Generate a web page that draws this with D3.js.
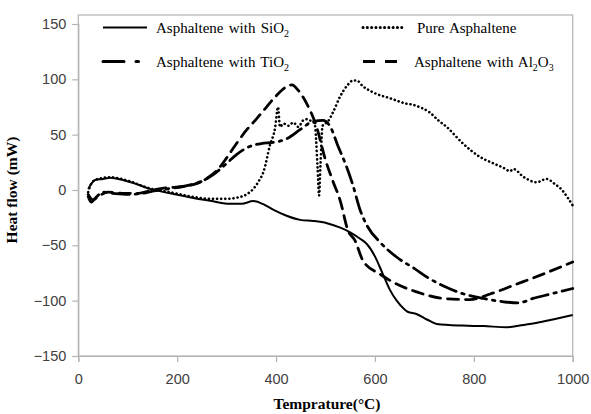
<!DOCTYPE html>
<html>
<head>
<meta charset="utf-8">
<script src="https://cdn.jsdelivr.net/npm/d3@7"></script>
<style>
  body { margin: 0; background: #fff; }
  svg { display: block; }
  .tick text { font-family: "Liberation Sans", Arial, sans-serif; font-size: 14.5px; fill: #404040; }
  .leg { font-family: "Liberation Serif", "Times New Roman", serif; font-size: 15px; fill: #000; word-spacing: 1.5px; }
  .ttl { font-family: "Liberation Serif", "Times New Roman", serif; font-size: 15.5px; font-weight: bold; fill: #000; }
</style>
</head>
<body>
<svg id="chart" width="591" height="414"></svg>
<script>
// values, [temperature C, heat flow mW]
var sio2 = [[20,1],[27,6],[34,9],[50,10],[64,11],[90,9],[120,5],[145,1],[186,-3],[230,-7],[270,-10],
  [307,-12.5],[330,-12.5],[354,-10],[375,-13],[395,-18],[420,-23],[449,-27],[475,-28],[503,-30],
  [530,-34],[549,-38],[570,-44],[584,-49],[600,-60],[616,-76],[630,-90],[644,-100],[660,-108],
  [666,-110],[684,-112],[705,-117],[725,-121],[778,-122.5],[820,-123],[867,-124],[900,-122],
  [928,-120],[960,-117],[1000,-113]];

var pure = [[20,-2],[28,7],[40,10],[64,11.5],[100,8.5],[140,2],[186,-2],[230,-6],[267,-8],[300,-8],
  [320,-7],[340,-4],[354,1],[365,8],[375,17],[388,41],[398,56],[404,75],[408,57],[415,60],[425,58],
  [435,61],[445,57],[455,63],[462,64],[472,62],[478,60],[484,20],[487,-5],[490,25],[494,58],
  [505,62],[515,70],[529,84],[545,95],[556,99],[563,99],[575,94],[597,88],[630,83],[664,78],
  [677,77],[695,74],[711,70],[728,63],[745,57],[778,42],[812,30],[840,24],[860,20],[873,17],
  [880,19],[900,12],[927,7],[947,10],[965,5],[974,2],[990,-7],[1000,-14]];

var tio2 = [[20,-6],[26,-11],[35,-7],[50,-2],[70,-3],[100,-4],[130,-3],[150,-1],[180,1],[220,4],
  [250,8],[270,13],[300,24],[320,32],[345,39],[370,42],[395,43],[420,46],[450,55],[475,62],
  [495,63],[510,57],[525,40],[540,24],[555,5],[570,-18],[585,-33],[610,-47],[645,-61],[680,-71],
  [710,-80],[750,-89],[780,-94],[820,-98],[860,-101],[890,-102],[920,-98],[955,-94],[1000,-89]];

var al2o3 = [[20,-4],[30,-9],[40,-6],[60,-2],[90,-3],[120,-3],[150,0],[180,2],[210,3],[240,6],
  [265,12],[285,20],[300,29],[320,42],[340,54],[360,64],[375,72],[400,85],[420,93],[432,95],
  [445,90],[462,78],[482,57],[500,27],[515,8],[530,-10],[545,-36],[560,-46],[576,-64],[610,-76],
  [644,-85],[684,-92],[738,-98],[792,-99],[833,-94],[887,-85],[940,-76],[1000,-65]];

var xTicks = [0, 200, 400, 600, 800, 1000];
var yTicks = [-150, -100, -50, 0, 50, 100, 150];

var series = [
  {name: ["Asphaltene with SiO", "2", ""], data: sio2, dash: null, w: 2},
  {name: ["Asphaltene with TiO", "2", ""], data: tio2, dash: "17 6 2.5 6", w: 2.8},
  {name: ["Pure Asphaltene"], data: pure, dash: "0.1 4", w: 2.6},
  {name: ["Asphaltene with Al", "2", "O", "3"], data: al2o3, dash: "11 7", w: 2.8}
];

var svg = d3.select('#chart');
var plotL = 78.3, plotR = 572.7, plotT = 24, plotB = 356;

var x = d3.scaleLinear().domain([0, 1000]).range([plotL, plotR]);
var y = d3.scaleLinear().domain([-150, 150]).range([plotB, plotT]);

// plot frame
svg.append('rect')
  .attr('x', plotL).attr('y', 15)
  .attr('width', plotR - plotL).attr('height', plotB - 15)
  .attr('fill', 'none').attr('stroke', '#b3b3b3').attr('stroke-width', 1.2);

var xAxis = svg.append('g')
  .attr('transform', 'translate(0,' + plotB + ')')
  .call(d3.axisBottom(x).tickValues(xTicks).tickSize(6).tickPadding(6).tickFormat(d3.format('d')));
var yAxis = svg.append('g')
  .attr('transform', 'translate(' + plotL + ',0)')
  .call(d3.axisLeft(y).tickValues(yTicks).tickSize(6).tickPadding(6).tickFormat(d3.format('d')));
[xAxis, yAxis].forEach(function(g){
  g.select('.domain').attr('stroke', '#b3b3b3').attr('stroke-width', 1.2);
  g.selectAll('.tick line').attr('stroke', '#b3b3b3').attr('stroke-width', 1.2);
});
xAxis.selectAll('.tick text').attr('dy', '1.1em');

var line = d3.line()
  .x(d => x(d[0]))
  .y(d => y(d[1]))
  .curve(d3.curveMonotoneX);

series.forEach(function(s){
  svg.append('path')
    .datum(s.data)
    .attr('d', line)
    .attr('fill', 'none')
    .attr('stroke', '#000')
    .attr('stroke-width', s.w)
    .attr('stroke-linecap', s.dash ? 'round' : 'butt')
    .attr('stroke-dasharray', s.dash);
});

// legend
var legPos = [
  {lx: [103, 147], tx: 156, ty: 27.5},
  {lx: [103, 147], tx: 156, ty: 61.5},
  {lx: [363, 402], tx: 417, ty: 27.5},
  {lx: [363, 398], tx: 414, ty: 61.5}
];
var legDash = [null, "21 12 2.5 20", "0.1 4.2", "12 10"];
series.forEach(function(s, i){
  var p = legPos[i];
  svg.append('line')
    .attr('x1', p.lx[0]).attr('x2', p.lx[1])
    .attr('y1', p.ty).attr('y2', p.ty)
    .attr('stroke', '#000').attr('stroke-width', i == 0 ? 2.2 : 3)
    .attr('stroke-linecap', i == 2 || i == 1 ? 'round' : 'butt')
    .attr('stroke-dasharray', legDash[i]);
  var t = svg.append('text').attr('class', 'leg')
    .attr('x', p.tx).attr('y', p.ty + 5);
  s.name.forEach(function(part, j){
    var sub = j % 2 == 1;
    t.append('tspan')
      .text(part)
      .attr('font-size', sub ? '10px' : null)
      .attr('dy', j == 0 ? 0 : (sub ? 4 : -4));
  });
});

// axis titles
svg.append('text').attr('class', 'ttl')
  .attr('x', 327).attr('y', 409)
  .attr('text-anchor', 'middle')
  .text('Temprature(°C)');
svg.append('text').attr('class', 'ttl')
  .attr('transform', 'translate(17,' + y(0) + ') rotate(-90)')
  .attr('text-anchor', 'middle')
  .text('Heat flow (mW)');
</script>
</body>
</html>
